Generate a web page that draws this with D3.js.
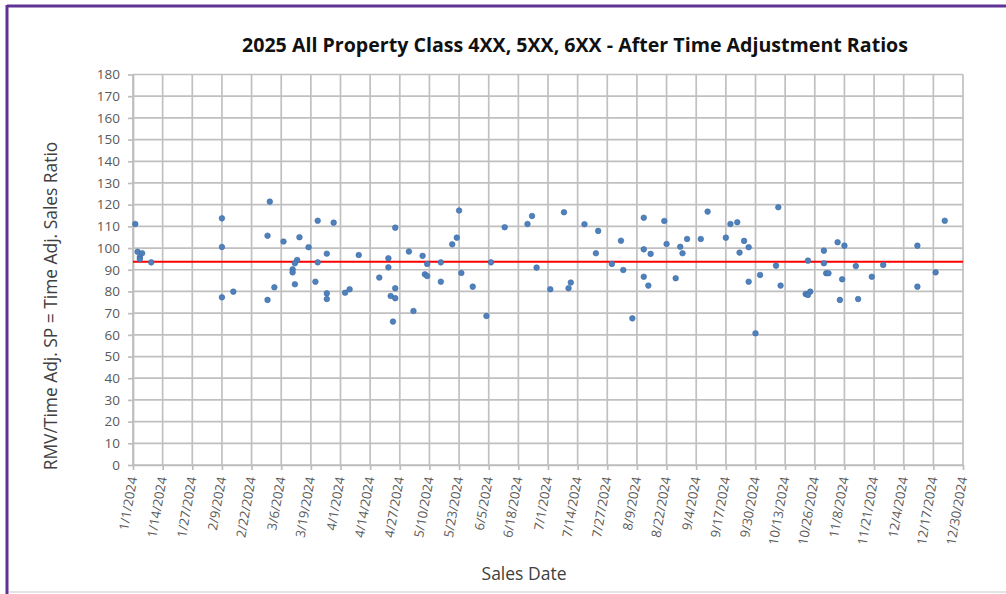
<!DOCTYPE html>
<html>
<head>
<meta charset="utf-8">
<script src="https://cdn.jsdelivr.net/npm/d3@7"></script>
<style>
  body { margin: 0; background: #fff; }
  svg { display: block; font-family: "Open Sans", sans-serif; }
</style>
</head>
<body>
<div id="chart"></div>
<script>
// data
var saleDates = [
  "1/2/2024", "1/3/2024", "1/5/2024", "1/4/2024", "1/4/2024", "1/9/2024",
  "2/9/2024", "2/9/2024", "2/9/2024", "2/14/2024",
  "3/1/2024", "2/29/2024", "2/29/2024", "3/3/2024", "3/7/2024", "3/14/2024",
  "3/13/2024", "3/12/2024", "3/11/2024", "3/11/2024", "3/12/2024", "3/18/2024",
  "3/22/2024", "3/22/2024", "3/21/2024", "3/26/2024", "3/26/2024", "3/26/2024",
  "3/29/2024", "4/3/2024", "4/5/2024", "4/9/2024",
  "4/25/2024", "4/18/2024", "4/22/2024", "4/22/2024", "4/25/2024", "4/23/2024",
  "4/25/2024", "4/24/2024", "5/1/2024", "5/3/2024", "5/7/2024", "5/9/2024",
  "5/8/2024", "5/9/2024", "5/15/2024", "5/15/2024", "5/20/2024", "5/22/2024",
  "5/23/2024", "5/24/2024", "5/29/2024", "6/4/2024", "6/6/2024", "6/12/2024",
  "6/22/2024", "6/24/2024", "6/26/2024",
  "7/2/2024", "7/8/2024", "7/10/2024", "7/11/2024", "7/17/2024", "7/23/2024",
  "7/22/2024", "7/29/2024", "8/2/2024", "8/3/2024", "8/7/2024", "8/12/2024",
  "8/12/2024", "8/15/2024", "8/12/2024", "8/14/2024", "8/21/2024", "8/22/2024",
  "8/26/2024", "8/28/2024", "8/31/2024", "8/29/2024", "9/6/2024", "9/9/2024",
  "9/17/2024", "9/19/2024", "9/22/2024", "9/25/2024", "9/27/2024", "9/23/2024",
  "9/27/2024", "9/30/2024",
  "10/10/2024", "10/2/2024", "10/9/2024", "10/11/2024", "10/23/2024",
  "10/22/2024", "10/24/2024", "10/23/2024", "10/30/2024", "10/30/2024",
  "10/31/2024", "11/1/2024", "11/5/2024", "11/8/2024", "11/7/2024", "11/6/2024",
  "11/13/2024", "11/14/2024", "11/20/2024", "11/25/2024",
  "12/10/2024", "12/10/2024", "12/18/2024", "12/22/2024"
];

var salesRatios = [
  111.1, 98.3, 97.6, 95.8, 94.9, 93.4,
  113.7, 100.5, 77.3, 79.9,
  121.4, 105.7, 76.1, 81.9, 103.0, 105.0,
  94.5, 93.0, 90.2, 88.8, 83.3, 100.4,
  112.6, 93.4, 84.5, 97.4, 79.1, 76.5,
  111.7, 79.4, 81.0, 96.8,
  109.4, 86.4, 95.3, 91.1, 81.5, 77.9,
  76.9, 66.1, 98.4, 71.0, 96.4, 92.7,
  87.9, 87.1, 84.5, 93.4, 101.7, 104.8,
  117.3, 88.5, 82.2, 68.7, 93.4, 109.6,
  111.1, 114.8, 91.0,
  81.0, 116.5, 81.5, 84.1, 111.0, 107.9,
  97.6, 92.7, 103.4, 89.9, 67.6, 114.0,
  99.4, 97.3, 86.8, 82.7, 112.5, 101.9,
  86.1, 100.6, 104.2, 97.6, 104.2, 116.8,
  104.8, 111.1, 111.9, 103.3, 100.4, 97.9,
  84.5, 60.7,
  118.8, 87.6, 91.9, 82.7, 94.2,
  78.8, 79.9, 78.4, 98.8, 93.0,
  88.4, 88.4, 102.7, 101.1, 85.6, 76.1,
  91.7, 76.5, 86.8, 92.2,
  101.1, 82.2, 88.8, 112.6
];

var medianRatio = 93.7;

var xTickLabels = [
  "1/1/2024", "1/14/2024", "1/27/2024", "2/9/2024", "2/22/2024", "3/6/2024",
  "3/19/2024", "4/1/2024", "4/14/2024", "4/27/2024", "5/10/2024", "5/23/2024",
  "6/5/2024", "6/18/2024", "7/1/2024", "7/14/2024", "7/27/2024", "8/9/2024",
  "8/22/2024", "9/4/2024", "9/17/2024", "9/30/2024", "10/13/2024", "10/26/2024",
  "11/8/2024", "11/21/2024", "12/4/2024", "12/17/2024", "12/30/2024"
];

var yTicks = [0, 10, 20, 30, 40, 50, 60, 70, 80, 90, 100, 110, 120, 130, 140, 150, 160, 170, 180];

// svg setup
var svgWidth = 1006;
var svgHeight = 594;

var margin = { top: 74.5, right: 43, bottom: 129, left: 133 };
var width = svgWidth - margin.left - margin.right;
var height = svgHeight - margin.top - margin.bottom;

var parseDate = d3.timeParse("%m/%d/%Y");

var data = saleDates.map(function(d, i) {
  return { date: parseDate(d), ratio: salesRatios[i] };
});
var tickDates = xTickLabels.map(parseDate);

var svg = d3.select("#chart")
  .append("svg")
  .attr("width", svgWidth)
  .attr("height", svgHeight);

// frame
svg.append("line")
  .attr("x1", 7).attr("x2", svgWidth).attr("y1", 6).attr("y2", 6)
  .attr("stroke", "#5e3393").attr("stroke-width", 3);
svg.append("line")
  .attr("x1", 7).attr("x2", 7).attr("y1", 5).attr("y2", svgHeight)
  .attr("stroke", "#5e3393").attr("stroke-width", 3);
svg.append("line")
  .attr("x1", 9).attr("x2", svgWidth).attr("y1", 592).attr("y2", 592)
  .attr("stroke", "#e4e4e4").attr("stroke-width", 2);

var chartGroup = svg.append("g")
  .attr("transform", `translate(${margin.left}, ${margin.top})`);

// scales
var xTimeScale = d3.scaleTime()
  .domain([tickDates[0], tickDates[tickDates.length - 1]])
  .range([0, width]);

var yLinearScale = d3.scaleLinear()
  .domain([0, 180])
  .range([height, 0]);

// gridlines
chartGroup.append("g")
  .selectAll("line")
  .data(yTicks)
  .enter()
  .append("line")
  .attr("x1", 0).attr("x2", width)
  .attr("y1", d => yLinearScale(d)).attr("y2", d => yLinearScale(d))
  .attr("stroke", "#c0c0c0").attr("stroke-width", 1.7);

chartGroup.append("g")
  .selectAll("line")
  .data(tickDates)
  .enter()
  .append("line")
  .attr("x1", d => xTimeScale(d)).attr("x2", d => xTimeScale(d))
  .attr("y1", 0).attr("y2", height)
  .attr("stroke", "#c0c0c0").attr("stroke-width", 1.7);

// axes
var bottomAxis = d3.axisBottom(xTimeScale)
  .tickValues(tickDates)
  .tickFormat((d, i) => xTickLabels[i])
  .tickSizeInner(5)
  .tickSizeOuter(0);

var leftAxis = d3.axisLeft(yLinearScale)
  .tickValues(yTicks)
  .tickSizeInner(5)
  .tickSizeOuter(0);

var xAxisG = chartGroup.append("g")
  .attr("transform", `translate(0, ${height})`)
  .call(bottomAxis);

xAxisG.selectAll("text")
  .attr("font-family", "Open Sans, sans-serif")
  .attr("font-size", 13)
  .attr("fill", "#595959")
  .attr("text-anchor", "end")
  .attr("dy", "0.35em")
  .attr("transform", "translate(0, 8) rotate(-80)")
  .attr("x", -4)
  .attr("y", 0);

var yAxisG = chartGroup.append("g")
  .call(leftAxis);

yAxisG.selectAll("text")
  .attr("font-family", "Open Sans, sans-serif")
  .attr("font-size", 13.5)
  .attr("fill", "#595959")
  .attr("x", -13);

chartGroup.selectAll(".domain, .tick line")
  .attr("stroke", "#bdbdbd")
  .attr("stroke-width", 1.7);

// median line
chartGroup.append("line")
  .attr("x1", 0).attr("x2", width)
  .attr("y1", yLinearScale(medianRatio)).attr("y2", yLinearScale(medianRatio))
  .attr("stroke", "#ff0000")
  .attr("stroke-width", 2);

// points
chartGroup.selectAll("circle")
  .data(data)
  .enter()
  .append("circle")
  .attr("cx", d => xTimeScale(d.date))
  .attr("cy", d => yLinearScale(d.ratio))
  .attr("r", 2.8)
  .attr("fill", "#4f81bd")
  .attr("stroke", "#3c6aa3")
  .attr("stroke-width", 0.6);

// title
svg.append("text")
  .attr("x", 575)
  .attr("y", 52)
  .attr("text-anchor", "middle")
  .attr("font-size", 19.6)
  .attr("font-weight", "bold")
  .attr("fill", "#111")
  .text("2025 All Property Class 4XX, 5XX, 6XX - After Time Adjustment Ratios");

// y axis title
svg.append("text")
  .attr("transform", "rotate(-90)")
  .attr("x", -306)
  .attr("y", 57)
  .attr("text-anchor", "middle")
  .attr("font-size", 17.4)
  .attr("fill", "#404040")
  .text("RMV/Time Adj. SP = Time Adj. Sales Ratio");

// x axis title
svg.append("text")
  .attr("x", 524)
  .attr("y", 580)
  .attr("text-anchor", "middle")
  .attr("font-size", 17.5)
  .attr("fill", "#404040")
  .text("Sales Date");
</script>
</body>
</html>
